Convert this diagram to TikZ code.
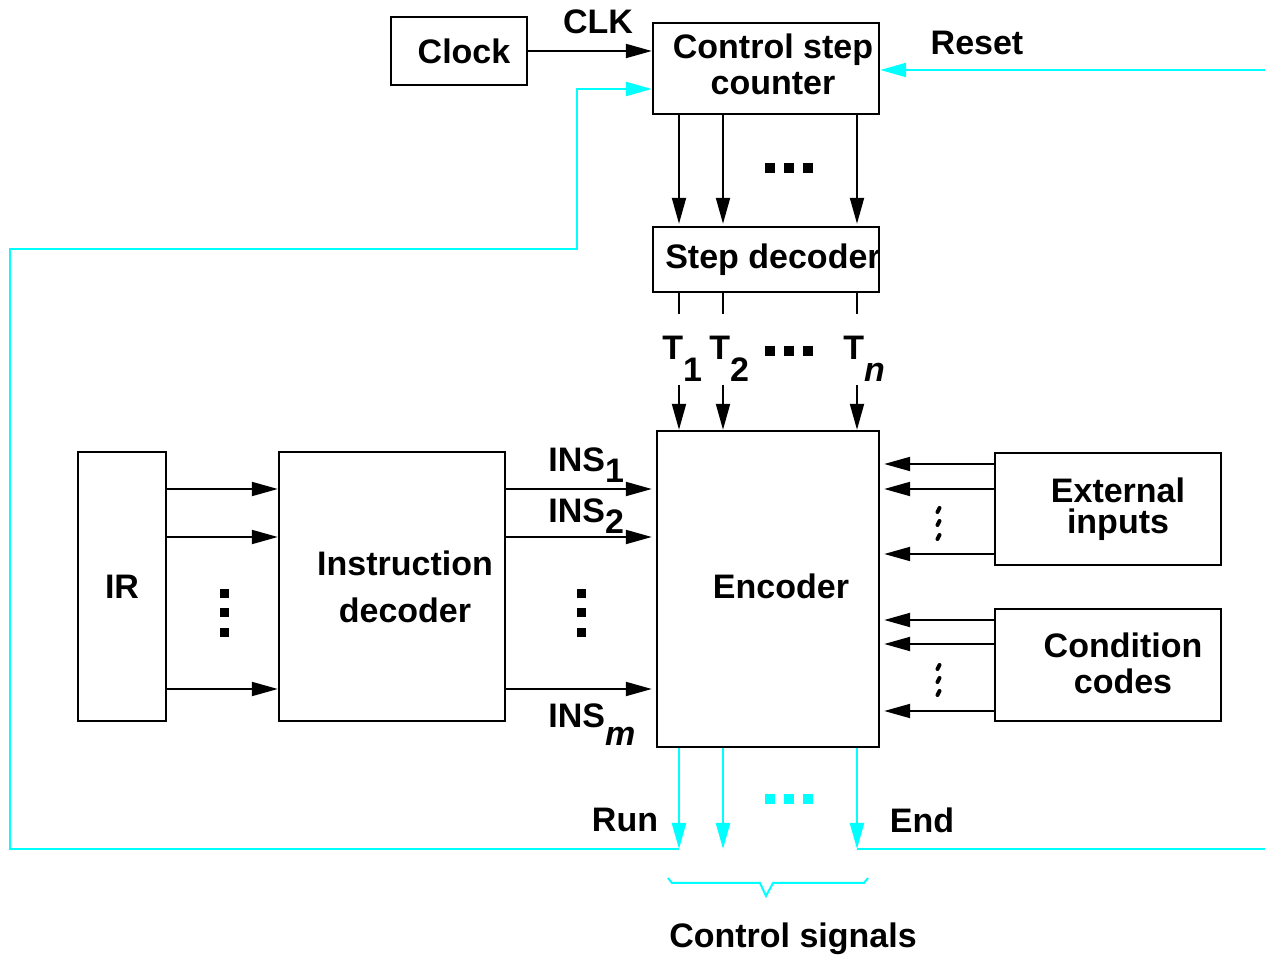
\documentclass[tikz,border=0pt]{standalone}
\usepackage{fontspec}
\setmainfont{Liberation Sans}
\usetikzlibrary{positioning,arrows.meta,calc}
\definecolor{SigCyan}{RGB}{0,255,255}

\begin{document}
\begin{tikzpicture}[x=0.5pt, y=-0.5pt,
    every node/.style={font=\bfseries\fontsize{17}{18}\selectfont, align=center, inner sep=0pt},
    box/.style={draw, line width=1.2pt, minimum width=113pt},
    arr/.style={-{Triangle[length=13pt, width=7pt]}, line width=1pt},
    sigarr/.style={-{Triangle[length=13pt, width=7pt]}, line width=1.2pt, SigCyan}]
  \useasboundingbox (0,0) rectangle (1265,956);
  % blocks
  \node[box, minimum width=68pt, minimum height=34pt] (clock) at (459,51) {\hspace*{5pt}Clock};
  \node[box, minimum height=45.5pt] (csc) at (766,68.5) {\hspace*{7pt}Control step\\\hspace*{7pt}counter\\[-13.5pt]};
  \node[box, minimum height=32.5pt, below=55.3pt of csc] (stepdec) {\makebox[0pt]{\hspace*{7pt}Step decoder}};
  \node[box, minimum width=111pt, minimum height=158pt] (enc) at (768,589) {\hspace*{13pt}Encoder\\[-15pt]};
  \node[box, minimum width=44pt, minimum height=134.5pt] (ir) at (122,586.5) {IR};
  \node[box, minimum height=134.5pt, right=55.3pt of ir] (idec) {\hspace*{13pt}Instruction\\[5.5pt]\hspace*{13pt}decoder};
  \node[box, minimum height=56pt] (ext) at (1108,509) {\hspace*{10pt}External\\[-2.5pt]\hspace*{10pt}inputs};
  \node[box, minimum height=56pt, below=20.8pt of ext] (cond) {\hspace*{15pt}Condition\\\hspace*{15pt}codes\\[-16pt]};
  % clock and reset
  \draw[arr] (clock.east) -- (clock.east -| csc.west);
  \node (clk) at (598,22) {CLK};
  \coordinate (resetin) at (1265,70);
  \draw[sigarr] (resetin) -- (resetin -| csc.east);
  \node (reset) at (977,43) {Reset};
  % counter to step decoder to encoder
  \foreach \x in {679,723,857} {
    \draw[arr, shorten >=1pt] (csc.south -| \x,0) -- (stepdec.north -| \x,0);
    \draw[line width=1pt] (stepdec.south -| \x,0) -- ++(0,21);
    \draw[arr] (\x,385) -- (enc.north -| \x,0);
  }
  \foreach \x in {770,789,808} {
    \fill ({\x-5},163) rectangle ++(10,10);
    \fill ({\x-5},346) rectangle ++(10,10);
    \fill[SigCyan] ({\x-5},794) rectangle ++(10,10);
  }
  \node[anchor=base west] (t1) at (662,360) {T\raisebox{-11pt}{1}};
  \node[anchor=base west] (t2) at (709,360) {T\raisebox{-11pt}{2}};
  \node[anchor=base west] (tn) at (843,360) {T\raisebox{-11pt}{\itshape n}};
  % IR to instruction decoder to encoder
  \foreach \y in {489,537,689} {
    \draw[arr] (ir.east |- 0,\y) -- (idec.west |- 0,\y);
    \draw[arr, shorten >=2pt] (idec.east |- 0,\y) -- (enc.west |- 0,\y);
  }
  \foreach \x in {224,581}
    \foreach \y in {594,613,633}
      \fill ({\x-4.5},{\y-4.5}) rectangle ++(9,9);
  \node[anchor=base west] (ins1) at (548,472) {INS\raisebox{-5.5pt}{1}};
  \node[anchor=base west] (ins2) at (548,523) {INS\raisebox{-5.5pt}{2}};
  \node[anchor=base west] (insm) at (548,728) {INS\raisebox{-9pt}{\itshape m}};
  % external inputs and condition codes
  \foreach \y in {464,489,554}
    \draw[arr, shorten >=2pt] (ext.west |- 0,\y) -- (enc.east |- 0,\y);
  \foreach \y in {620,644,711}
    \draw[arr, shorten >=2pt] (cond.west |- 0,\y) -- (enc.east |- 0,\y);
  \foreach \y in {510,523,537,667,680,693}
    \draw[line width=2pt, line cap=round] (939.5,{\y-2}) -- (937.5,{\y+2});
  % control signals
  \foreach \x/\n in {679/run,723/sigtwo,857/endo}
    \draw[sigarr] (enc.south -| \x,0) -- (\x,849) coordinate (\n);
  \draw[sigarr] (run) -| (10,249) -| (577,89) -- (csc.west |- 0,89);
  \coordinate (endout) at (1265,849);
  \draw[SigCyan, line width=1.2pt] (endo) -- (endout);
  \node (runlbl) at (625,820) {Run};
  \node (endlbl) at (922,820) {End};
  \draw[SigCyan, line width=1pt] (668,878) -- (672,883) -- (760,883) -- (766,896)
    -- (773,883) -- (864,883) -- (868,878);
  \node (ctrlsig) at (793,939) {Control signals};
\end{tikzpicture}
\end{document}
